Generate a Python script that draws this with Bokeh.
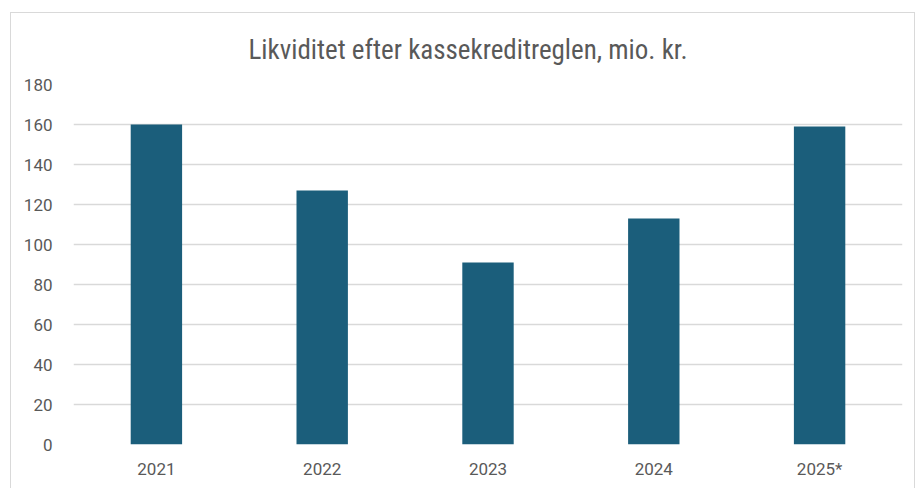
from bokeh.plotting import figure
from bokeh.models import ColumnDataSource, Title
from bokeh.embed import file_html
from bokeh.resources import INLINE

years = ["2021", "2022", "2023", "2024", "2025*"]
values = [160, 127, 91, 113, 159]
y_ticks = [0, 20, 40, 60, 80, 100, 120, 140, 160, 180]
title_text = "Likviditet efter kassekreditreglen, mio. kr."

TEXT = "#595959"
GRID = "#d9d9d9"
BAR = "#1B5E7B"
FONT = "Liberation Sans Narrow, Roboto Condensed, Roboto"

source = ColumnDataSource(data=dict(years=years, values=values))

p = figure(
    x_range=years,
    y_range=(0, 180),
    width=903,
    height=476,
    frame_width=829,
    frame_height=360,
    min_border_left=62,
    min_border_right=12,
    min_border_top=71,
    min_border_bottom=45,
    output_backend="svg",
    toolbar_location=None,
    tools="",
)

p.vbar(x="years", top="values", width=0.31, source=source,
       fill_color=BAR, line_color=None)

t = Title(text=title_text, align="left",
          text_font=FONT, text_font_size="27px", text_font_style="normal",
          text_color=TEXT, standoff=37, offset=175)
p.title = t

p.xaxis.axis_line_color = None
p.xaxis.major_tick_line_color = None
p.xaxis.minor_tick_line_color = None
p.xaxis.major_label_text_font_size = "17px"
p.xaxis.major_label_text_color = TEXT
p.xaxis.major_label_text_font = "Roboto"
p.xaxis.major_label_standoff = 8

p.yaxis.ticker = y_ticks
p.yaxis.axis_line_color = None
p.yaxis.major_tick_line_color = None
p.yaxis.minor_tick_line_color = None
p.yaxis.major_label_text_font_size = "17px"
p.yaxis.major_label_text_color = TEXT
p.yaxis.major_label_text_font = "Roboto"
p.yaxis.major_label_standoff = 15

p.xgrid.grid_line_color = None
p.ygrid.grid_line_color = GRID
p.ygrid.grid_line_width = 1.5
p.outline_line_color = None
p.background_fill_color = "white"
p.border_fill_color = "white"
p.styles = {"border": "1px solid #d9d9d9", "margin-left": "10px", "margin-top": "12px"}

open("out.html", "w").write(file_html(p, INLINE))
